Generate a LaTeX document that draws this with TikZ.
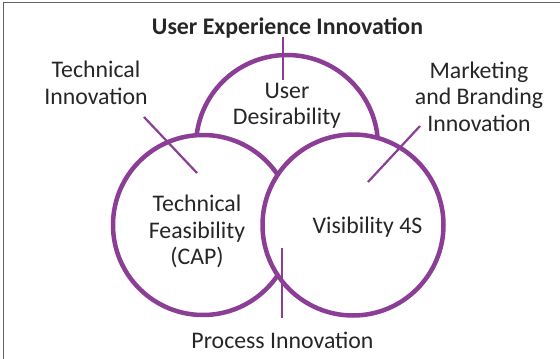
\documentclass[tikz,border=0pt]{standalone}
\usepackage{fontspec}
\setmainfont{Carlito}
\definecolor{vpurple}{RGB}{140,62,151}
\definecolor{txtgray}{RGB}{38,38,38}
\definecolor{framegray}{RGB}{100,100,100}
\begin{document}
\begin{tikzpicture}[x=1pt,y=-1pt,
  ring/.style={circle, draw=vpurple, line width=4.5pt, fill=white, inner sep=0pt},
  tick/.style={draw=vpurple, line width=2.2pt},
  lbl/.style={font=\fontsize{23.8}{26.5}\selectfont, text=txtgray, align=center, inner sep=0pt, anchor=base},
  frameline/.style={draw=framegray, line width=1.5pt}]
\useasboundingbox (0,0) rectangle (560,359);
% frame
\coordinate (fa) at (3.6,359);
\coordinate (fb) at (3.6,2.6);
\coordinate (fc) at (560,2.6);
\draw[frameline] (fa) -- (fb) -- (fc);
% circles
\node[ring, minimum size=182pt] (topc) at (287,146) {};
\node[ring, minimum size=180pt] (leftc) at (203,225) {};
\node[ring, minimum size=181pt] (rightc) at (353,225) {};
% ticks
\coordinate (t1) at (283,37);
\coordinate (t2) at (283,80);
\coordinate (a1) at (144,117);
\coordinate (a2) at (197,173);
\coordinate (m1) at (420,126);
\coordinate (m2) at (368,182);
\coordinate (p1) at (282,248);
\coordinate (p2) at (282,318);
\draw[tick] (t1) -- (t2);
\draw[tick] (a1) -- (a2);
\draw[tick] (m1) -- (m2);
\draw[tick] (p1) -- (p2);
% labels (base anchor = baseline of the last line)
\node[lbl, font=\fontsize{23.8}{26.5}\selectfont\bfseries] (title) at (287.5,34) {User Experience Innovation};
\node[lbl] (techinno) at (96,104) {Technical\\Innovation};
\node[lbl] (market) at (479,131) {Marketing\\and Branding\\Innovation};
\node[lbl] (userdes) at (287,124.5) {User\\Desirability};
\node[lbl] (techfeas) at (197,264.5) {Technical\\Feasibility\\(CAP)};
\node[lbl] (vis) at (367.5,233) {Visibility 4S};
\node[lbl] (process) at (282.5,348) {Process Innovation};
\end{tikzpicture}
\end{document}
